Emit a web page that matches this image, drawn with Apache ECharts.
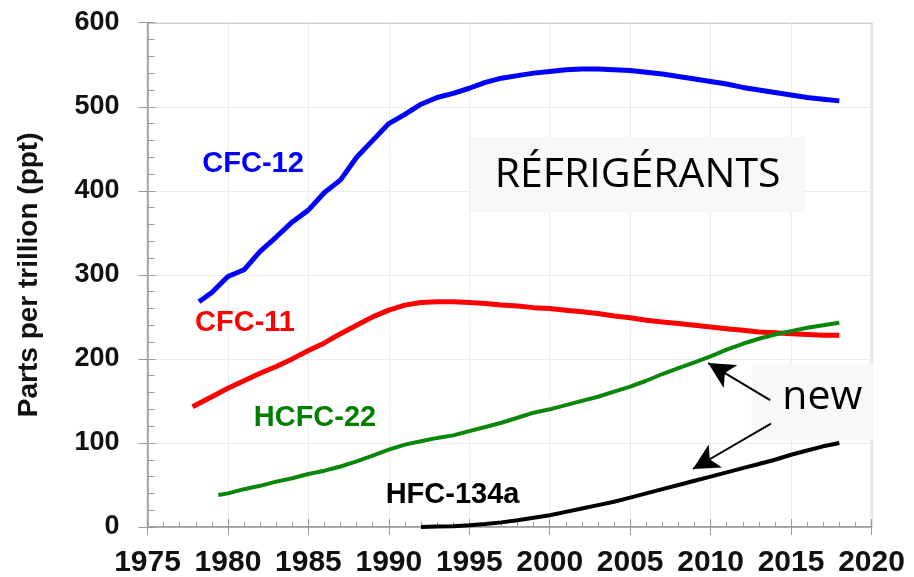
<!DOCTYPE html>
<html>
<head>
<meta charset="utf-8">
<script src="https://cdn.jsdelivr.net/npm/echarts@6/dist/echarts.min.js"></script>
<style>
  html, body { margin: 0; padding: 0; background: #fff; }
  #chart { width: 914px; height: 577px; }
</style>
</head>
<body>
<div id="chart"></div>
<script>
// years and mixing ratios (ppt)
const cfc12Years = [1978.2, 1979, 1980, 1981, 1982, 1983, 1984, 1985, 1986, 1987, 1988, 1989, 1990, 1991, 1992, 1993, 1994, 1995, 1996, 1997, 1998, 1999, 2000, 2001, 2002, 2003, 2004, 2005, 2006, 2007, 2008, 2009, 2010, 2011, 2012, 2013, 2014, 2015, 2016, 2017, 2018]
const cfc12 = [268, 279, 298, 306, 328, 345, 363, 377, 398, 413, 440, 460, 480, 491, 503, 511, 516, 522, 529, 534, 537, 540, 542, 544, 545, 545, 544, 543, 541, 539, 536, 533, 530, 527, 523, 520, 517, 514, 511, 509, 507]

const cfc11Years = [1977.8, 1979, 1980, 1981, 1982, 1983, 1984, 1985, 1986, 1987, 1988, 1989, 1990, 1991, 1992, 1993, 1994, 1995, 1996, 1997, 1998, 1999, 2000, 2001, 2002, 2003, 2004, 2005, 2006, 2007, 2008, 2009, 2010, 2011, 2012, 2013, 2014, 2015, 2016, 2017, 2018]
const cfc11 = [143, 155, 165, 174, 183, 191, 200, 210, 219, 230, 240, 250, 258, 264, 267, 268, 268, 267, 266, 264, 263, 261, 260, 258, 256, 254, 251, 249, 246, 244, 242, 240, 238, 236, 234, 232, 231, 230, 229, 228, 228]

const hcfc22Years = [1979.4, 1980, 1981, 1982, 1983, 1984, 1985, 1986, 1987, 1988, 1989, 1990, 1991, 1992, 1993, 1994, 1995, 1996, 1997, 1998, 1999, 2000, 2001, 2002, 2003, 2004, 2005, 2006, 2007, 2008, 2009, 2010, 2011, 2012, 2013, 2014, 2015, 2016, 2017, 2018]
const hcfc22 = [38, 40, 45, 49, 54, 58, 63, 67, 72, 78, 85, 92, 98, 102, 106, 109, 114, 119, 124, 130, 136, 140, 145, 150, 155, 161, 167, 174, 182, 189, 196, 203, 211, 218, 224, 229, 233, 237, 240, 243]

const hfc134aYears = [1992, 1993, 1994, 1995, 1996, 1997, 1998, 1999, 2000, 2001, 2002, 2003, 2004, 2005, 2006, 2007, 2008, 2009, 2010, 2011, 2012, 2013, 2014, 2015, 2016, 2017, 2018]
const hfc134a = [0, 0.5, 1, 2, 3.5, 5.5, 8, 11, 14, 18, 22, 26, 30, 35, 40, 45, 50, 55, 60, 65, 70, 75, 80, 86, 91, 96, 100]

const yTicks = [0, 100, 200, 300, 400, 500, 600]

const pairs = (xs, ys) => xs.map((x, i) => [x, ys[i]])

const boldFont = '"Liberation Sans", Arial, sans-serif'
const lightFont = '"Open Sans", "Noto Sans", sans-serif'

// annotation anchors in data coordinates [year, ppt]
const labels = [
  { text: 'CFC-12', at: [1981.56, 432], color: '#0000ff' },
  { text: 'CFC-11', at: [1981.06, 243], color: '#ff0000' },
  { text: 'HCFC-22', at: [1985.41, 130], color: '#008000' },
  { text: 'HFC-134a', at: [1993.96, 38], color: '#000000' }
]

const chart = echarts.init(document.getElementById('chart'))

const gridBox = { left: 147.5, right: 42.5, top: 22.7, bottom: 50 }

const option = {
  backgroundColor: '#ffffff',
  animation: false,
  grid: {
    ...gridBox,
    outerBoundsMode: 'none',
    containLabel: false,
    show: true,
    borderColor: '#9a9a9a',
    borderWidth: 1.5,
    backgroundColor: 'transparent'
  },
  xAxis: [
    {
      type: 'value',
      min: 1975,
      max: 2020,
      interval: 5,
      axisLine: { show: true, onZero: false, lineStyle: { color: '#9a9a9a', width: 1.5 } },
      axisTick: { show: true, inside: true, length: 8, lineStyle: { color: '#9a9a9a' } },
      minorTick: { show: true, splitNumber: 5, length: 5, lineStyle: { color: '#9a9a9a' } },
      splitLine: { show: true, lineStyle: { color: '#ececec', width: 1 } },
      axisLabel: {
        margin: 21,
        fontFamily: boldFont,
        fontWeight: 'bold',
        fontSize: 30,
        color: '#111',
        formatter: v => String(v)
      }
    },
    {
      type: 'value',
      position: 'bottom',
      min: 1975,
      max: 2020,
      interval: 5,
      axisLine: { show: false },
      axisTick: { show: true, inside: false, length: 8, lineStyle: { color: '#9a9a9a' } },
      splitLine: { show: false },
      axisLabel: { show: false }
    }
  ],
  yAxis: [
    {
      type: 'value',
      min: yTicks[0],
      max: yTicks[yTicks.length - 1],
      interval: 100,
      name: 'Parts per trillion (ppt)',
      nameLocation: 'middle',
      nameRotate: 90,
      nameGap: 104,
      nameTextStyle: {
        fontFamily: boldFont,
        fontWeight: 'bold',
        fontSize: 28,
        color: '#111'
      },
      axisLine: { show: true, lineStyle: { color: '#9a9a9a', width: 1.5 } },
      axisTick: { show: true, inside: true, length: 8, lineStyle: { color: '#9a9a9a' } },
      minorTick: { show: true, splitNumber: 5, length: 7, lineStyle: { color: '#9a9a9a' } },
      splitLine: { show: true, lineStyle: { color: '#ececec', width: 1 } },
      axisLabel: {
        margin: 28,
        fontFamily: boldFont,
        fontWeight: 'bold',
        fontSize: 27,
        color: '#111'
      }
    },
    {
      type: 'value',
      position: 'left',
      min: 0,
      max: 600,
      interval: 100,
      axisLine: { show: false },
      axisTick: { show: true, inside: false, length: 9, lineStyle: { color: '#9a9a9a' } },
      splitLine: { show: false },
      axisLabel: { show: false }
    }
  ],
  series: [
    {
      name: 'CFC-12',
      type: 'line',
      showSymbol: false,
      lineStyle: { color: '#0000ff', width: 5 },
      data: pairs(cfc12Years, cfc12)
    },
    {
      name: 'CFC-11',
      type: 'line',
      showSymbol: false,
      lineStyle: { color: '#ff0000', width: 5 },
      data: pairs(cfc11Years, cfc11)
    },
    {
      name: 'HCFC-22',
      type: 'line',
      showSymbol: false,
      lineStyle: { color: '#0a870a', width: 4 },
      data: pairs(hcfc22Years, hcfc22)
    },
    {
      name: 'HFC-134a',
      type: 'line',
      showSymbol: false,
      z: 4,
      lineStyle: { color: '#000000', width: 4 },
      data: pairs(hfc134aYears, hfc134a),
      markLine: {
        silent: true,
        symbol: ['none', 'arrow'],
        symbolSize: [20, 26],
        label: { show: false },
        lineStyle: { color: '#000', width: 2, type: 'solid' },
        data: [
          [{ coord: [2013.7, 151] }, { coord: [2009.85, 195] }],
          [{ coord: [2013.75, 123] }, { coord: [2008.9, 69] }]
        ]
      }
    }
  ]
}

chart.setOption(option)

// place annotation boxes and labels once the scales exist
const px = p => chart.convertToPixel({ gridIndex: 0 }, p)

const refTL = px([1995.06, 464])
const refBR = px([2015.86, 373.6])
const newTL = px([2012.55, 194.8])
const newBR = px([2020.09, 103.5])

const graphics = [
  {
    type: 'rect',
    z: 1,
    shape: { x: refTL[0], y: refTL[1], width: refBR[0] - refTL[0], height: refBR[1] - refTL[1] },
    style: { fill: '#f9f8f6' }
  },
  {
    type: 'text',
    z: 5,
    x: (refTL[0] + refBR[0]) / 2,
    y: (refTL[1] + refBR[1]) / 2,
    style: {
      text: 'RÉFRIGÉRANTS',
      font: '41px ' + lightFont,
      fill: '#000',
      align: 'center',
      verticalAlign: 'middle'
    }
  },
  {
    type: 'rect',
    z: 1,
    shape: { x: newTL[0], y: newTL[1], width: newBR[0] - newTL[0], height: newBR[1] - newTL[1] },
    style: { fill: '#f9f8f6' }
  },
  {
    type: 'text',
    z: 5,
    x: (newTL[0] + newBR[0]) / 2 + 10,
    y: (newTL[1] + newBR[1]) / 2 - 4,
    style: {
      text: 'new',
      font: '41px ' + lightFont,
      fill: '#000',
      align: 'center',
      verticalAlign: 'middle'
    }
  }
]

labels.forEach(l => {
  const p = px(l.at)
  graphics.push({
    type: 'text',
    z: 5,
    x: p[0],
    y: p[1],
    style: {
      text: l.text,
      font: 'bold 29px ' + boldFont,
      fill: l.color,
      align: 'center',
      verticalAlign: 'middle'
    }
  })
})

chart.setOption({ graphic: graphics })
</script>
</body>
</html>
